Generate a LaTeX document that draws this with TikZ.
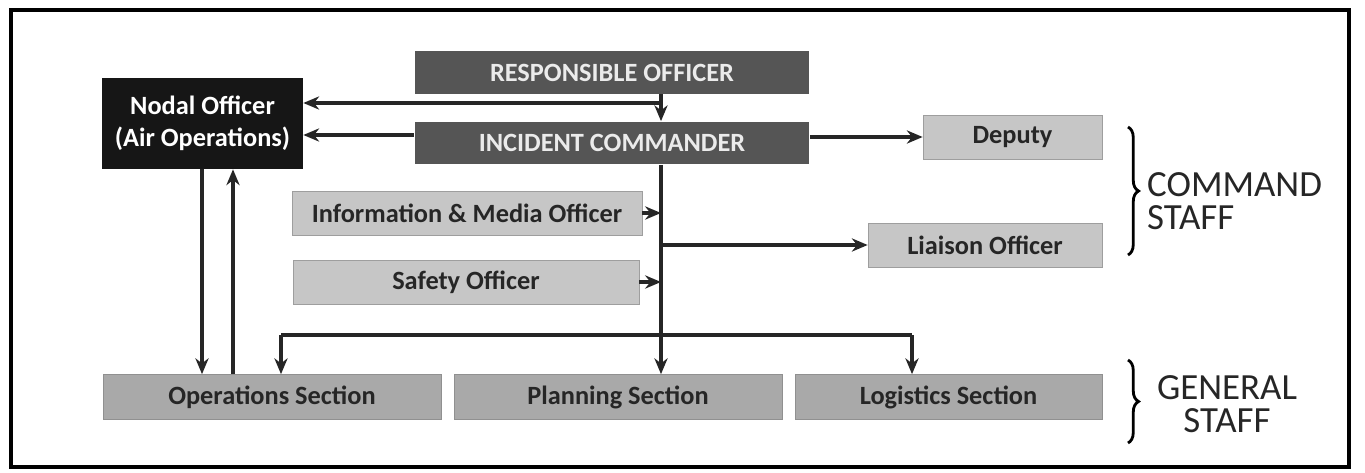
\documentclass[tikz,border=0pt]{standalone}
\usepackage{fontspec}
\setmainfont{Carlito}
\usetikzlibrary{calc,arrows.meta,decorations.pathreplacing}

\definecolor{darkbox}{HTML}{555555}
\definecolor{lightbox}{HTML}{C6C6C6}
\definecolor{midbox}{HTML}{A9A9A9}
\definecolor{nodalbox}{HTML}{161616}
\definecolor{boxtext}{HTML}{262626}

\begin{document}
\begin{tikzpicture}[x=0.02cm, y=-0.02cm, >={Stealth[length=9pt, width=7.5pt]},
  link/.style={line width=1.8pt, draw=black!85},
  headbox/.style={fill=darkbox, text=white!92!black, font=\fontsize{15}{17}\selectfont\bfseries, minimum width=7.9cm, minimum height=0.86cm},
  staffbox/.style={fill=lightbox, draw=lightbox!80!black, thin, text=boxtext, font=\fontsize{15}{17}\selectfont\bfseries, minimum height=0.88cm},
  sectbox/.style={fill=midbox, draw=midbox!85!black, thin, text=boxtext, font=\fontsize{15}{17}\selectfont\bfseries, minimum height=0.9cm},
  grouplabel/.style={text=boxtext, font=\fontsize{21}{23}\selectfont, align=left}] % 座標はピクセル単位
  \useasboundingbox (0,0) rectangle (1365,473); % 画像の大きさ
  \draw[line width=2pt] (11,10) rectangle (1349,467); % 外枠

  % ボックス
  \node[headbox] (ro) at (612,72.5) {RESPONSIBLE OFFICER};
  \node[headbox] (ic) at (612,143) {INCIDENT COMMANDER};
  \node[fill=nodalbox, text=white, font=\fontsize{15}{18}\selectfont\bfseries, align=center, minimum width=4.02cm, minimum height=1.82cm] (nodal) at (202.5,123.5) {Nodal Officer\\(Air Operations)};
  \node[staffbox, minimum width=3.58cm] (deputy) at (1012.5,137) {Deputy};
  \node[staffbox, minimum width=7cm] (info) at (467,213) {Information \& Media Officer};
  \node[staffbox, minimum width=4.68cm] (liaison) at (985,245) {Liaison Officer};
  \node[staffbox, minimum width=6.92cm] (safety) at (466,282) {Safety Officer};
  \node[sectbox, minimum width=6.76cm] (ops) at (272,397) {Operations Section};
  \node[sectbox, minimum width=6.56cm] (plan) at (618,397) {Planning Section};
  \node[sectbox, minimum width=6.14cm] (logi) at (948.5,397) {Logistics Section};

  \coordinate (spine) at (661,0); % 縦の幹線
  \coordinate (rotap) at (661,103); % 分岐点

  % 矢印
  \draw[link, ->] (spine |- ro.south) -- (spine |- ic.north);
  \draw[link, ->] (rotap) -- (rotap -| nodal.east);
  \draw[link, ->] ([yshift=0.16cm]ic.west) -- ([yshift=0.16cm]ic.west -| nodal.east);
  \draw[link, ->] (deputy.west -| ic.east) -- (deputy.west);
  \draw[link, ->] (spine |- ic.south) -- (spine |- plan.north);
  \draw[link, ->] (info.east) -- (info.east -| spine);
  \draw[link, ->] (spine |- liaison.west) -- (liaison.west);
  \draw[link, ->] (safety.east) -- (safety.east -| spine);
  \draw[link, ->] (281,335) coordinate (opsbar) -- (opsbar |- ops.north); % 作戦部へ
  \draw[link] (opsbar) -- (912,335) coordinate (logibar);
  \draw[link, ->] (logibar) -- (logibar |- logi.north); % 兵站部へ
  \draw[link, ->] (202,0 |- nodal.south) -- (202,0 |- ops.north);
  \draw[link, ->] (233,0 |- ops.north) -- (233,0 |- nodal.south);

  % 括弧とラベル
  \draw[line width=1.6pt, decorate, decoration={brace, amplitude=6pt}] (1128,127) -- (1128,255);
  \node[grouplabel, anchor=west] (cmd) at (1141,201) {COMMAND\\[-4pt]STAFF};
  \draw[line width=1.6pt, decorate, decoration={brace, amplitude=6pt}] (1128,360) -- (1128,443);
  \node[grouplabel, align=center] (gen) at (1227,404) {GENERAL\\[-4pt]STAFF};
\end{tikzpicture}
\end{document}
